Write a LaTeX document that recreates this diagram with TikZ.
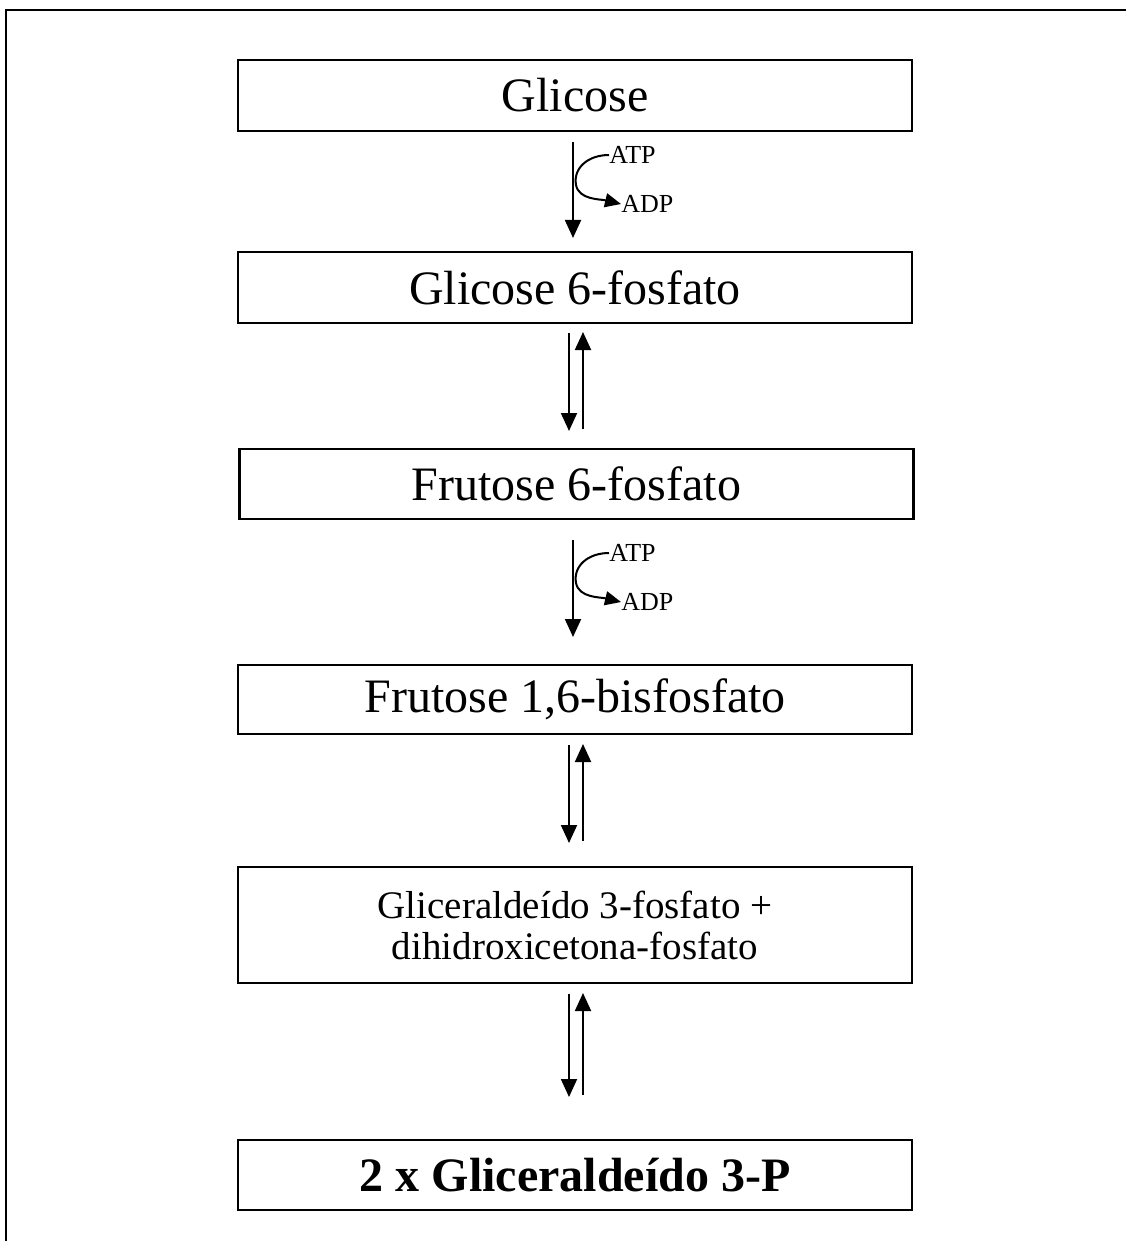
\documentclass[tikz,border=0pt]{standalone}
\usepackage{fontspec}
\setmainfont{Liberation Serif}
\usetikzlibrary{arrows.meta}
\begin{document}
\begin{tikzpicture}[x=0.5pt,y=-0.5pt,
  stepbox/.style={draw,line width=1.1pt,rectangle,minimum width=337pt,inner sep=0pt,align=center},
  bigtext/.style={font=\fontsize{24}{28}\selectfont},
  midtext/.style={font=\fontsize{19.5}{20.5}\selectfont},
  smalltext/.style={font=\fontsize{13}{14}\selectfont,inner sep=0pt},
  flow/.style={line width=0.95pt,-{Triangle[length=9pt,width=8pt]}},
  side/.style={line width=1pt,-{Triangle[length=8pt,width=7pt]}}]
\useasboundingbox (0,0) rectangle (1126,1241);
\draw[line width=1.1pt] (1126,10) -- (6,10) -- (6,1241);

\node[stepbox,bigtext,minimum height=35.5pt] (b1) at (575,95.5) {Glicose};
\node[stepbox,bigtext,minimum height=35.5pt] (b2) at (575,287.5) {Glicose 6-fosfato};
\node[stepbox,bigtext,minimum height=35pt] (b3) at (576.5,484) {Frutose 6-fosfato};
\node[stepbox,bigtext,minimum height=34.5pt] (b4) at (575,699.5) {Frutose 1,6-bisfosfato};
\node[stepbox,midtext,minimum height=58pt] (b5) at (575,925) {Gliceraldeído 3-fosfato +\\dihidroxicetona-fosfato};
\node[stepbox,bigtext,font=\bfseries\fontsize{24}{28}\selectfont,minimum height=35pt] (b6) at (575,1175) {2 x Gliceraldeído 3-P};

% first ATP step
\coordinate (s1a) at (573,142);
\coordinate (s1b) at (573,238);
\node[smalltext,anchor=west] (atp1) at (609,155) {ATP};
\node[smalltext,anchor=west] (adp1) at (621,204) {ADP};
\draw[flow] (s1a) -- (s1b);
\draw[side] (atp1.west) .. controls (588,155) and (573,168) .. (576,185)
  .. controls (579,200) and (600,199) .. (adp1.west);

% second ATP step
\coordinate (s2a) at (573,540);
\coordinate (s2b) at (573,637);
\node[smalltext,anchor=west] (atp2) at (609,553) {ATP};
\node[smalltext,anchor=west] (adp2) at (621,602) {ADP};
\draw[flow] (s2a) -- (s2b);
\draw[side] (atp2.west) .. controls (588,553) and (573,566) .. (576,583)
  .. controls (579,598) and (600,597) .. (adp2.west);

% reversible steps
\coordinate (r1a) at (569,333); \coordinate (r1b) at (569,431);
\coordinate (r1c) at (583,429); \coordinate (r1d) at (583,332);
\draw[flow] (r1a) -- (r1b);
\draw[flow] (r1c) -- (r1d);

\coordinate (r2a) at (569,745); \coordinate (r2b) at (569,843);
\coordinate (r2c) at (583,841); \coordinate (r2d) at (583,744);
\draw[flow] (r2a) -- (r2b);
\draw[flow] (r2c) -- (r2d);

\coordinate (r3a) at (569,994); \coordinate (r3b) at (569,1097);
\coordinate (r3c) at (583,1095); \coordinate (r3d) at (583,993);
\draw[flow] (r3a) -- (r3b);
\draw[flow] (r3c) -- (r3d);
\end{tikzpicture}
\end{document}
